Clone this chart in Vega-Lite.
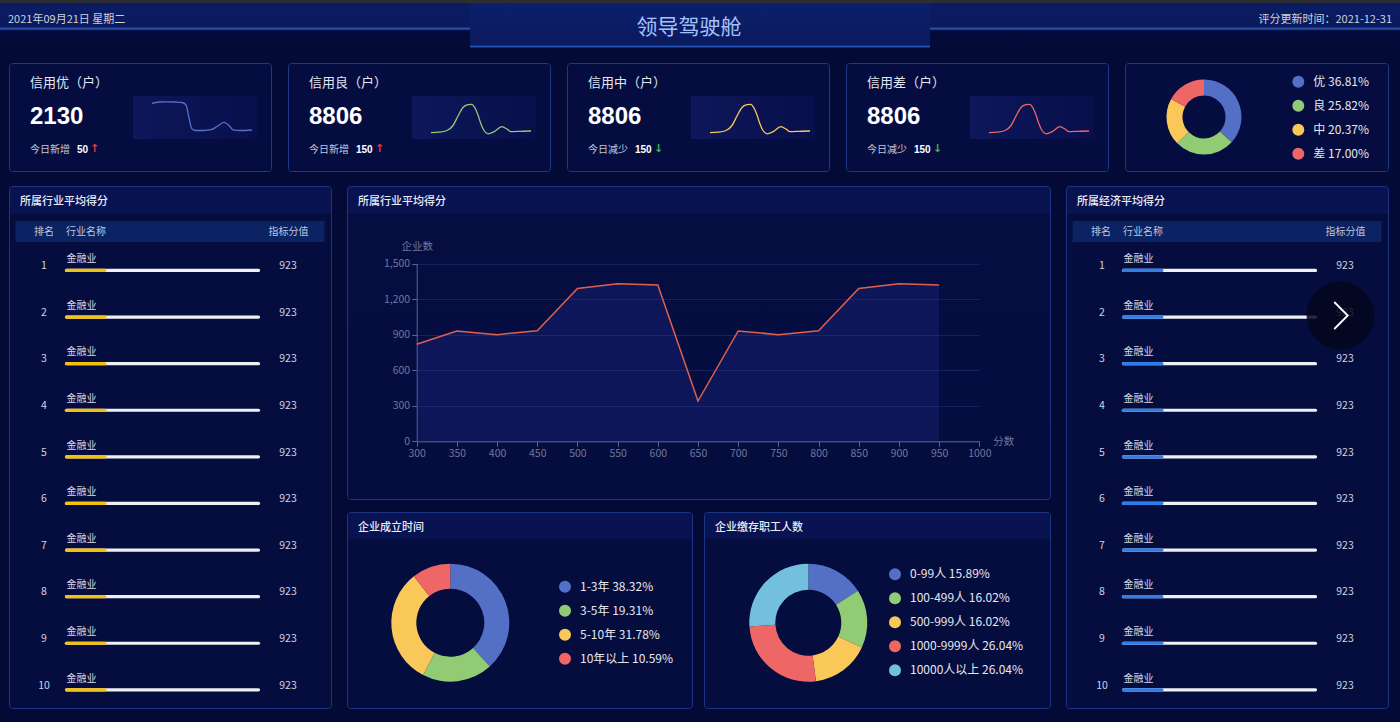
{
"$schema":"https://vega.github.io/schema/vega-lite/v6.json",
"background":"#030a35",
"padding":{"left":0,"top":0,"right":0,"bottom":13},
"autosize":{"type":"pad"},
"config":{
 "font":"Noto Sans CJK SC",
 "view":{"stroke":null},
 "title":{"font":"Noto Sans CJK SC","fontWeight":"normal","frame":"group"},
 "axis":{"domainColor":"#5a6490","tickColor":"#5a6490","labelColor":"#6f789c","titleColor":"#6f789c","gridColor":"#18215c","labelFontSize":10.5,"titleFontSize":10.5,"titleFontWeight":"normal","tickSize":5,"labelPadding":2,"labelFont":"Noto Sans CJK SC","titleFont":"Noto Sans CJK SC"},
 "legend":{"symbolType":"circle","symbolSize":144,"symbolStrokeWidth":0,"labelFontSize":12,"labelColor":"#e6e8ee","labelFont":"Noto Sans CJK SC","labelOffset":9,"rowPadding":12,"padding":0,"labelLimit":300,"orient":"none","direction":"vertical"}
},
"datasets":{
 "tbl":[{"rank":1,"name":"金融业","score":923,"pct":20},{"rank":2,"name":"金融业","score":923,"pct":20},{"rank":3,"name":"金融业","score":923,"pct":20},{"rank":4,"name":"金融业","score":923,"pct":20},{"rank":5,"name":"金融业","score":923,"pct":20},{"rank":6,"name":"金融业","score":923,"pct":20},{"rank":7,"name":"金融业","score":923,"pct":20},{"rank":8,"name":"金融业","score":923,"pct":20},{"rank":9,"name":"金融业","score":923,"pct":20},{"rank":10,"name":"金融业","score":923,"pct":20}],
 "line":[{"score":300,"count":820},{"score":350,"count":932},{"score":400,"count":901},{"score":450,"count":934},{"score":500,"count":1290},{"score":550,"count":1330},{"score":600,"count":1320},{"score":650,"count":340},{"score":700,"count":932},{"score":750,"count":901},{"score":800,"count":934},{"score":850,"count":1290},{"score":900,"count":1330},{"score":950,"count":1320}],
 "kpi":[{"card":1,"name":"信用优（户）","total":2130,"trend":"今日新增","delta":50,"dir":"↑"},{"card":2,"name":"信用良（户）","total":8806,"trend":"今日新增","delta":150,"dir":"↑"},{"card":3,"name":"信用中（户）","total":8806,"trend":"今日减少","delta":150,"dir":"↓"},{"card":4,"name":"信用差（户）","total":8806,"trend":"今日减少","delta":150,"dir":"↓"}],
 "spark":[
  {"card":1,"t":0,"v":36.7},{"card":1,"t":7,"v":38},{"card":1,"t":15,"v":38.2},{"card":1,"t":23,"v":38},{"card":1,"t":30,"v":37.5},{"card":1,"t":34,"v":35},{"card":1,"t":37,"v":22},{"card":1,"t":40,"v":11},{"card":1,"t":44,"v":9.5},{"card":1,"t":52,"v":9.5},{"card":1,"t":59,"v":10.3},{"card":1,"t":65,"v":13.5},{"card":1,"t":72,"v":17.7},{"card":1,"t":77,"v":14.5},{"card":1,"t":81,"v":10.2},{"card":1,"t":88,"v":9.5},{"card":1,"t":100,"v":10},
  {"card":2,"t":0,"v":7.3},{"card":2,"t":8,"v":7.8},{"card":2,"t":16,"v":9.5},{"card":2,"t":22,"v":14.5},{"card":2,"t":27,"v":24},{"card":2,"t":32,"v":32.5},{"card":2,"t":37,"v":35.3},{"card":2,"t":40.7,"v":35.7},{"card":2,"t":44,"v":32},{"card":2,"t":47,"v":25},{"card":2,"t":50,"v":16},{"card":2,"t":53,"v":9.5},{"card":2,"t":57,"v":6.2},{"card":2,"t":63,"v":8.3},{"card":2,"t":70.7,"v":13.3},{"card":2,"t":76,"v":11},{"card":2,"t":80,"v":8.3},{"card":2,"t":90,"v":8.7},{"card":2,"t":100,"v":9},
  {"card":3,"t":0,"v":7.3},{"card":3,"t":8,"v":7.8},{"card":3,"t":16,"v":9.5},{"card":3,"t":22,"v":14.5},{"card":3,"t":27,"v":24},{"card":3,"t":32,"v":32.5},{"card":3,"t":37,"v":35.3},{"card":3,"t":40.7,"v":35.7},{"card":3,"t":44,"v":32},{"card":3,"t":47,"v":25},{"card":3,"t":50,"v":16},{"card":3,"t":53,"v":9.5},{"card":3,"t":57,"v":6.2},{"card":3,"t":63,"v":8.3},{"card":3,"t":70.7,"v":13.3},{"card":3,"t":76,"v":11},{"card":3,"t":80,"v":8.3},{"card":3,"t":90,"v":8.7},{"card":3,"t":100,"v":9},
  {"card":4,"t":0,"v":7.3},{"card":4,"t":8,"v":7.8},{"card":4,"t":16,"v":9.5},{"card":4,"t":22,"v":14.5},{"card":4,"t":27,"v":24},{"card":4,"t":32,"v":32.5},{"card":4,"t":37,"v":35.3},{"card":4,"t":40.7,"v":35.7},{"card":4,"t":44,"v":32},{"card":4,"t":47,"v":25},{"card":4,"t":50,"v":16},{"card":4,"t":53,"v":9.5},{"card":4,"t":57,"v":6.2},{"card":4,"t":63,"v":8.3},{"card":4,"t":70.7,"v":13.3},{"card":4,"t":76,"v":11},{"card":4,"t":80,"v":8.3},{"card":4,"t":90,"v":8.7},{"card":4,"t":100,"v":9}
 ],
 "credit":[{"label":"优 36.81%","v":36.81,"idx":1},{"label":"良 25.82%","v":25.82,"idx":2},{"label":"中 20.37%","v":20.37,"idx":3},{"label":"差 17.00%","v":17.00,"idx":4}],
 "age":[{"label":"1-3年 38.32%","v":38.32,"idx":1},{"label":"3-5年 19.31%","v":19.31,"idx":2},{"label":"5-10年 31.78%","v":31.78,"idx":3},{"label":"10年以上 10.59%","v":10.59,"idx":4}],
 "staff":[{"label":"0-99人 15.89%","v":15.89,"idx":1},{"label":"100-499人 16.02%","v":16.02,"idx":2},{"label":"500-999人 16.02%","v":16.02,"idx":3},{"label":"1000-9999人 26.04%","v":26.04,"idx":4},{"label":"10000人以上 26.04%","v":26.04,"idx":5}]
},
"spacing":14,
"resolve":{"scale":{"color":"independent"},"legend":{"color":"independent"}},
"vconcat":[
 {"spacing":0,"resolve":{"scale":{"color":"independent"},"legend":{"color":"independent"}},"vconcat":[
  {"width":1400,"height":3,"view":{"fill":"#2c2d33","stroke":null},"data":{"values":[]},"mark":"point","encoding":{}},
  {"spacing":0,"resolve":{"scale":{"color":"independent"},"legend":{"color":"independent"}},"hconcat":[
   {"width":470,"height":45,"view":{"fill":{"gradient":"linear","x1":0,"y1":0,"x2":0,"y2":1,"stops":[{"offset":0,"color":"#0b1c63"},{"offset":0.53,"color":"#0a1a5c"},{"offset":0.555,"color":"#1f4aa6"},{"offset":0.585,"color":"#1f4aa6"},{"offset":0.61,"color":"#040c3d"},{"offset":1,"color":"#030a35"}]},"stroke":null},
    "title":{"text":"2021年09月21日 星期二","anchor":"start","offset":-21.5,"dx":8,"fontSize":11,"color":"#cdd2dc"},"data":{"values":[]},"mark":"point","encoding":{}},
   {"width":460,"height":45,"view":{"fill":{"gradient":"linear","x1":0,"y1":0,"x2":0,"y2":1,"stops":[{"offset":0,"color":"#0c1f6b"},{"offset":0.94,"color":"#0a1a5e"},{"offset":0.955,"color":"#2656b8"},{"offset":0.98,"color":"#2656b8"},{"offset":0.995,"color":"#030a35"},{"offset":1,"color":"#030a35"}]},"stroke":null},
    "title":{"text":"领导驾驶舱","anchor":"middle","offset":-34.5,"dx":-11,"fontSize":21,"color":"#a3c1ff"},"data":{"values":[]},"mark":"point","encoding":{}},
   {"width":470,"height":45,"view":{"fill":{"gradient":"linear","x1":0,"y1":0,"x2":0,"y2":1,"stops":[{"offset":0,"color":"#0b1c63"},{"offset":0.53,"color":"#0a1a5c"},{"offset":0.555,"color":"#1f4aa6"},{"offset":0.585,"color":"#1f4aa6"},{"offset":0.61,"color":"#040c3d"},{"offset":1,"color":"#030a35"}]},"stroke":null},
    "title":{"text":"评分更新时间：2021-12-31","anchor":"end","offset":-21.5,"dx":-8,"fontSize":11,"color":"#cdd2dc"},"data":{"values":[]},"mark":"point","encoding":{}}
  ]}
 ]},
 {"spacing":13,"resolve":{"scale":{"color":"independent"},"legend":{"color":"independent"}},"vconcat":[
 {"spacing":7,"resolve":{"scale":{"color":"independent"},"legend":{"color":"independent"}},"hconcat":[
  {"width":1,"height":1,"data":{"values":[]},"mark":"point","encoding":{}},
  {"spacing":15,"resolve":{"scale":{"color":"independent"},"legend":{"color":"independent"}},"hconcat":[
   {"width":262,"height":108,"view":{"fill":"#050c3f","stroke":"#1c3887","cornerRadius":3},
    "resolve":{"scale":{"x":"independent","y":"independent","color":"independent"}},
    "layer":[
     {"data":{"values":[{}]},"mark":{"type":"rect","fill":{"gradient":"linear","x1":0,"y1":0,"x2":1,"y2":0,"stops":[{"offset":0,"color":"#0d175a"},{"offset":1,"color":"#080f4a"}]}},
       "encoding":{"x":{"datum":-19,"type":"quantitative","scale":{"domain":[-19,105],"range":[124,248],"nice":false,"zero":false},"axis":null},"x2":{"datum":105},"y":{"datum":1,"type":"quantitative","scale":{"domain":[1,44],"range":[76,33],"nice":false,"zero":false},"axis":null},"y2":{"datum":44}}},
     {"data":{"name":"spark"},"transform":[{"filter":"datum.card == 1"}],"mark":{"type":"line","interpolate":"monotone","color":"#5470c6","strokeWidth":1.3},
       "encoding":{"x":{"field":"t","type":"quantitative","scale":{"domain":[-19,105],"range":[124,248],"nice":false,"zero":false},"axis":null},"y":{"field":"v","type":"quantitative","scale":{"domain":[1,44],"range":[76,33],"nice":false,"zero":false},"axis":null}}},
     {"data":{"name":"kpi"},"transform":[{"filter":"datum.card == 1"}],"mark":{"type":"text","align":"left","baseline":"middle","dx":-110,"dy":-34,"fontSize":13,"color":"#e2e7f2"},"encoding":{"text":{"field":"name","type":"nominal"}}},
     {"data":{"name":"kpi"},"transform":[{"filter":"datum.card == 1"}],"mark":{"type":"text","align":"left","baseline":"middle","dx":-110,"dy":0,"fontSize":24,"fontWeight":"bold","font":"Liberation Sans","color":"#ffffff"},"encoding":{"text":{"field":"total","type":"nominal"}}},
     {"data":{"name":"kpi"},"transform":[{"filter":"datum.card == 1"}],"mark":{"type":"text","align":"left","baseline":"middle","dx":-110,"dy":33,"fontSize":10,"color":"#c3c8d6"},"encoding":{"text":{"field":"trend","type":"nominal"}}},
     {"data":{"name":"kpi"},"transform":[{"filter":"datum.card == 1"}],"mark":{"type":"text","align":"center","baseline":"middle","dx":-45.5,"dy":32,"fontSize":11,"fontWeight":"bold","font":"DejaVu Sans"},"encoding":{"text":{"field":"dir","type":"nominal"},"color":{"field":"dir","type":"nominal","scale":{"domain":["↑","↓"],"range":["#e5383b","#3dbb57"]},"legend":null}}},
     {"data":{"name":"kpi"},"transform":[{"filter":"datum.card == 1"}],"mark":{"type":"text","align":"left","baseline":"middle","dx":-63,"dy":33,"fontSize":10,"fontWeight":"bold","font":"Liberation Sans","color":"#ffffff"},"encoding":{"text":{"field":"delta","type":"nominal"}}}
    ]},
   {"width":262,"height":108,"view":{"fill":"#050c3f","stroke":"#1c3887","cornerRadius":3},
    "resolve":{"scale":{"x":"independent","y":"independent","color":"independent"}},
    "layer":[
     {"data":{"values":[{}]},"mark":{"type":"rect","fill":{"gradient":"linear","x1":0,"y1":0,"x2":1,"y2":0,"stops":[{"offset":0,"color":"#0d175a"},{"offset":1,"color":"#080f4a"}]}},
       "encoding":{"x":{"datum":-19,"type":"quantitative","scale":{"domain":[-19,105],"range":[124,248],"nice":false,"zero":false},"axis":null},"x2":{"datum":105},"y":{"datum":1,"type":"quantitative","scale":{"domain":[1,44],"range":[76,33],"nice":false,"zero":false},"axis":null},"y2":{"datum":44}}},
     {"data":{"name":"spark"},"transform":[{"filter":"datum.card == 2"}],"mark":{"type":"line","interpolate":"monotone","color":"#91cc75","strokeWidth":1.3},
       "encoding":{"x":{"field":"t","type":"quantitative","scale":{"domain":[-19,105],"range":[124,248],"nice":false,"zero":false},"axis":null},"y":{"field":"v","type":"quantitative","scale":{"domain":[1,44],"range":[76,33],"nice":false,"zero":false},"axis":null}}},
     {"data":{"name":"kpi"},"transform":[{"filter":"datum.card == 2"}],"mark":{"type":"text","align":"left","baseline":"middle","dx":-110,"dy":-34,"fontSize":13,"color":"#e2e7f2"},"encoding":{"text":{"field":"name","type":"nominal"}}},
     {"data":{"name":"kpi"},"transform":[{"filter":"datum.card == 2"}],"mark":{"type":"text","align":"left","baseline":"middle","dx":-110,"dy":0,"fontSize":24,"fontWeight":"bold","font":"Liberation Sans","color":"#ffffff"},"encoding":{"text":{"field":"total","type":"nominal"}}},
     {"data":{"name":"kpi"},"transform":[{"filter":"datum.card == 2"}],"mark":{"type":"text","align":"left","baseline":"middle","dx":-110,"dy":33,"fontSize":10,"color":"#c3c8d6"},"encoding":{"text":{"field":"trend","type":"nominal"}}},
     {"data":{"name":"kpi"},"transform":[{"filter":"datum.card == 2"}],"mark":{"type":"text","align":"center","baseline":"middle","dx":-39.5,"dy":32,"fontSize":11,"fontWeight":"bold","font":"DejaVu Sans"},"encoding":{"text":{"field":"dir","type":"nominal"},"color":{"field":"dir","type":"nominal","scale":{"domain":["↑","↓"],"range":["#e5383b","#3dbb57"]},"legend":null}}},
     {"data":{"name":"kpi"},"transform":[{"filter":"datum.card == 2"}],"mark":{"type":"text","align":"left","baseline":"middle","dx":-63,"dy":33,"fontSize":10,"fontWeight":"bold","font":"Liberation Sans","color":"#ffffff"},"encoding":{"text":{"field":"delta","type":"nominal"}}}
    ]},
   {"width":262,"height":108,"view":{"fill":"#050c3f","stroke":"#1c3887","cornerRadius":3},
    "resolve":{"scale":{"x":"independent","y":"independent","color":"independent"}},
    "layer":[
     {"data":{"values":[{}]},"mark":{"type":"rect","fill":{"gradient":"linear","x1":0,"y1":0,"x2":1,"y2":0,"stops":[{"offset":0,"color":"#0d175a"},{"offset":1,"color":"#080f4a"}]}},
       "encoding":{"x":{"datum":-19,"type":"quantitative","scale":{"domain":[-19,105],"range":[124,248],"nice":false,"zero":false},"axis":null},"x2":{"datum":105},"y":{"datum":1,"type":"quantitative","scale":{"domain":[1,44],"range":[76,33],"nice":false,"zero":false},"axis":null},"y2":{"datum":44}}},
     {"data":{"name":"spark"},"transform":[{"filter":"datum.card == 3"}],"mark":{"type":"line","interpolate":"monotone","color":"#fac858","strokeWidth":1.3},
       "encoding":{"x":{"field":"t","type":"quantitative","scale":{"domain":[-19,105],"range":[124,248],"nice":false,"zero":false},"axis":null},"y":{"field":"v","type":"quantitative","scale":{"domain":[1,44],"range":[76,33],"nice":false,"zero":false},"axis":null}}},
     {"data":{"name":"kpi"},"transform":[{"filter":"datum.card == 3"}],"mark":{"type":"text","align":"left","baseline":"middle","dx":-110,"dy":-34,"fontSize":13,"color":"#e2e7f2"},"encoding":{"text":{"field":"name","type":"nominal"}}},
     {"data":{"name":"kpi"},"transform":[{"filter":"datum.card == 3"}],"mark":{"type":"text","align":"left","baseline":"middle","dx":-110,"dy":0,"fontSize":24,"fontWeight":"bold","font":"Liberation Sans","color":"#ffffff"},"encoding":{"text":{"field":"total","type":"nominal"}}},
     {"data":{"name":"kpi"},"transform":[{"filter":"datum.card == 3"}],"mark":{"type":"text","align":"left","baseline":"middle","dx":-110,"dy":33,"fontSize":10,"color":"#c3c8d6"},"encoding":{"text":{"field":"trend","type":"nominal"}}},
     {"data":{"name":"kpi"},"transform":[{"filter":"datum.card == 3"}],"mark":{"type":"text","align":"center","baseline":"middle","dx":-39.5,"dy":32,"fontSize":11,"fontWeight":"bold","font":"DejaVu Sans"},"encoding":{"text":{"field":"dir","type":"nominal"},"color":{"field":"dir","type":"nominal","scale":{"domain":["↑","↓"],"range":["#e5383b","#3dbb57"]},"legend":null}}},
     {"data":{"name":"kpi"},"transform":[{"filter":"datum.card == 3"}],"mark":{"type":"text","align":"left","baseline":"middle","dx":-63,"dy":33,"fontSize":10,"fontWeight":"bold","font":"Liberation Sans","color":"#ffffff"},"encoding":{"text":{"field":"delta","type":"nominal"}}}
    ]},
   {"width":262,"height":108,"view":{"fill":"#050c3f","stroke":"#1c3887","cornerRadius":3},
    "resolve":{"scale":{"x":"independent","y":"independent","color":"independent"}},
    "layer":[
     {"data":{"values":[{}]},"mark":{"type":"rect","fill":{"gradient":"linear","x1":0,"y1":0,"x2":1,"y2":0,"stops":[{"offset":0,"color":"#0d175a"},{"offset":1,"color":"#080f4a"}]}},
       "encoding":{"x":{"datum":-19,"type":"quantitative","scale":{"domain":[-19,105],"range":[124,248],"nice":false,"zero":false},"axis":null},"x2":{"datum":105},"y":{"datum":1,"type":"quantitative","scale":{"domain":[1,44],"range":[76,33],"nice":false,"zero":false},"axis":null},"y2":{"datum":44}}},
     {"data":{"name":"spark"},"transform":[{"filter":"datum.card == 4"}],"mark":{"type":"line","interpolate":"monotone","color":"#ee6666","strokeWidth":1.3},
       "encoding":{"x":{"field":"t","type":"quantitative","scale":{"domain":[-19,105],"range":[124,248],"nice":false,"zero":false},"axis":null},"y":{"field":"v","type":"quantitative","scale":{"domain":[1,44],"range":[76,33],"nice":false,"zero":false},"axis":null}}},
     {"data":{"name":"kpi"},"transform":[{"filter":"datum.card == 4"}],"mark":{"type":"text","align":"left","baseline":"middle","dx":-110,"dy":-34,"fontSize":13,"color":"#e2e7f2"},"encoding":{"text":{"field":"name","type":"nominal"}}},
     {"data":{"name":"kpi"},"transform":[{"filter":"datum.card == 4"}],"mark":{"type":"text","align":"left","baseline":"middle","dx":-110,"dy":0,"fontSize":24,"fontWeight":"bold","font":"Liberation Sans","color":"#ffffff"},"encoding":{"text":{"field":"total","type":"nominal"}}},
     {"data":{"name":"kpi"},"transform":[{"filter":"datum.card == 4"}],"mark":{"type":"text","align":"left","baseline":"middle","dx":-110,"dy":33,"fontSize":10,"color":"#c3c8d6"},"encoding":{"text":{"field":"trend","type":"nominal"}}},
     {"data":{"name":"kpi"},"transform":[{"filter":"datum.card == 4"}],"mark":{"type":"text","align":"center","baseline":"middle","dx":-39.5,"dy":32,"fontSize":11,"fontWeight":"bold","font":"DejaVu Sans"},"encoding":{"text":{"field":"dir","type":"nominal"},"color":{"field":"dir","type":"nominal","scale":{"domain":["↑","↓"],"range":["#e5383b","#3dbb57"]},"legend":null}}},
     {"data":{"name":"kpi"},"transform":[{"filter":"datum.card == 4"}],"mark":{"type":"text","align":"left","baseline":"middle","dx":-63,"dy":33,"fontSize":10,"fontWeight":"bold","font":"Liberation Sans","color":"#ffffff"},"encoding":{"text":{"field":"delta","type":"nominal"}}}
    ]},
   {"width":263,"height":108,"view":{"fill":"#050c3f","stroke":"#1c3887","cornerRadius":3},
    "data":{"name":"credit"},
    "mark":{"type":"arc","outerRadius":37.5,"innerRadius":21.5,"xOffset":-52.5},
    "encoding":{"theta":{"field":"v","type":"quantitative","stack":true},"order":{"field":"idx","type":"quantitative"},
     "color":{"field":"label","type":"nominal","scale":{"domain":["优 36.81%","良 25.82%","中 20.37%","差 17.00%"],"range":["#5470c6","#91cc75","#fac858","#ee6666"]},"legend":{"title":null,"legendX":167.3,"legendY":12.7}}}}
  ]}
 ]},
 {"spacing":7,"resolve":{"scale":{"color":"independent"},"legend":{"color":"independent"}},"hconcat":[
  {"width":1,"height":1,"data":{"values":[]},"mark":"point","encoding":{}},
  {"spacing":14,"resolve":{"scale":{"color":"independent"},"legend":{"color":"independent"}},"hconcat":[
   {"width":322,"height":522,"view":{"fill":{"gradient":"linear","x1":0,"y1":0,"x2":0,"y2":1,"stops":[{"offset":0,"color":"#0a1351"},{"offset":0.0515,"color":"#0a1351"},{"offset":0.053,"color":"#050c3e"},{"offset":1,"color":"#050c3e"}]},"stroke":"#1b3583","cornerRadius":3},
    "title":{"text":"所属行业平均得分","anchor":"start","offset":-20.5,"dx":11,"fontSize":11,"fontWeight":500,"color":"#e8ecf6"},
    "resolve":{"scale":{"x":"independent","y":"independent"}},
    "layer":[
     {"data":{"values":[{}]},"mark":{"type":"rect","color":"#0b2263"},
      "encoding":{"x":{"datum":0,"type":"quantitative","scale":{"domain":[0,1],"range":[6.5,315.5],"nice":false,"zero":false},"axis":null},"x2":{"datum":1},"y":{"datum":0,"type":"quantitative","scale":{"domain":[0,1],"range":[35,56],"nice":false,"zero":false},"axis":null},"y2":{"datum":1}}},
     {"data":{"values":[{}]},"mark":{"type":"text","text":"排名","dx":-126,"dy":-215,"fontSize":10,"color":"#bfc7dc","align":"center","baseline":"middle"},"encoding":{}},
     {"data":{"values":[{}]},"mark":{"type":"text","text":"行业名称","dx":-84,"dy":-215,"fontSize":10,"color":"#bfc7dc","align":"center","baseline":"middle"},"encoding":{}},
     {"data":{"values":[{}]},"mark":{"type":"text","text":"指标分值","dx":118.5,"dy":-215,"fontSize":10,"color":"#bfc7dc","align":"center","baseline":"middle"},"encoding":{}},
     {"data":{"name":"tbl"},"mark":{"type":"rule","color":"#eef0f4","strokeWidth":3.2,"strokeCap":"round"},
      "encoding":{"x":{"datum":0,"type":"quantitative","scale":{"domain":[0,100],"range":[57.5,249.5],"nice":false,"zero":false},"axis":null},"x2":{"datum":100},"y":{"field":"rank","type":"ordinal","scale":{"type":"band","domain":[1,2,3,4,5,6,7,8,9,10],"range":[56,522],"paddingInner":0,"paddingOuter":0},"bandPosition":0.61,"axis":null}}},
     {"data":{"name":"tbl"},"mark":{"type":"rule","color":"#f4c20d","strokeWidth":3.2,"strokeCap":"round"},
      "encoding":{"x":{"field":"pct","type":"quantitative","scale":{"domain":[0,100],"range":[57.5,249.5],"nice":false,"zero":false},"axis":null},"x2":{"datum":0},"y":{"field":"rank","type":"ordinal","scale":{"type":"band","domain":[1,2,3,4,5,6,7,8,9,10],"range":[56,522],"paddingInner":0,"paddingOuter":0},"bandPosition":0.61,"axis":null}}},
     {"data":{"name":"tbl"},"mark":{"type":"text","align":"left","baseline":"middle","fontSize":10,"color":"#d6dae6"},
      "encoding":{"x":{"datum":0,"type":"quantitative","scale":{"domain":[0,100],"range":[57.5,249.5],"nice":false,"zero":false},"axis":null},"y":{"field":"rank","type":"ordinal","scale":{"type":"band","domain":[1,2,3,4,5,6,7,8,9,10],"range":[56,522],"paddingInner":0,"paddingOuter":0},"bandPosition":0.37,"axis":null},"text":{"field":"name","type":"nominal"}}},
     {"data":{"name":"tbl"},"mark":{"type":"text","align":"center","baseline":"middle","dx":-126,"fontSize":10.5,"color":"#cfd4e2"},
      "encoding":{"y":{"field":"rank","type":"ordinal","scale":{"type":"band","domain":[1,2,3,4,5,6,7,8,9,10],"range":[56,522],"paddingInner":0,"paddingOuter":0},"bandPosition":0.52,"axis":null},"text":{"field":"rank","type":"nominal"}}},
     {"data":{"name":"tbl"},"mark":{"type":"text","align":"center","baseline":"middle","dx":118,"fontSize":10.5,"color":"#cfd4e2"},
      "encoding":{"y":{"field":"rank","type":"ordinal","scale":{"type":"band","domain":[1,2,3,4,5,6,7,8,9,10],"range":[56,522],"paddingInner":0,"paddingOuter":0},"bandPosition":0.52,"axis":null},"text":{"field":"score","type":"nominal"}}}
    ]},
   {"spacing":11,"resolve":{"scale":{"color":"independent"},"legend":{"color":"independent"}},"vconcat":[
    {"width":703,"height":313,"view":{"fill":{"gradient":"linear","x1":0,"y1":0,"x2":0,"y2":1,"stops":[{"offset":0,"color":"#0a1351"},{"offset":0.086,"color":"#0a1351"},{"offset":0.089,"color":"#060d41"},{"offset":1,"color":"#050c3e"}]},"stroke":"#1b3583","cornerRadius":3},
     "title":{"text":"所属行业平均得分","anchor":"start","offset":-20.5,"dx":11,"fontSize":11,"fontWeight":500,"color":"#e8ecf6"},
     "data":{"name":"line"},
     "encoding":{
      "x":{"field":"score","type":"quantitative","scale":{"domain":[300,1000],"range":[69.7,632.3],"nice":false,"zero":false},
       "axis":{"values":[300,350,400,450,500,550,600,650,700,750,800,850,900,950,1000],"format":"d","offset":-57.7,"grid":false,"title":"分数","titleX":645.7,"titleY":0,"titleAlign":"left","titleBaseline":"middle","titleAngle":0,"labelFlush":false,"labelOverlap":false}},
      "y":{"field":"count","type":"quantitative","scale":{"domain":[0,1500],"range":[255.3,77.7],"nice":false,"zero":true},
       "axis":{"values":[0,300,600,900,1200,1500],"format":",d","offset":-69.7,"grid":true,"title":"企业数","titleAngle":0,"titleX":0,"titleY":60.3,"titleAlign":"center","titleBaseline":"middle"}}
     },
     "layer":[
      {"mark":{"type":"area","color":"#2a3db0","opacity":0.22}},
      {"mark":{"type":"line","color":"#e0604e","strokeWidth":1.5}}
     ]},
    {"spacing":10,"resolve":{"scale":{"color":"independent"},"legend":{"color":"independent"}},"hconcat":[
     {"width":345,"height":196,"view":{"fill":{"gradient":"linear","x1":0,"y1":0,"x2":0,"y2":1,"stops":[{"offset":0,"color":"#0a1351"},{"offset":0.132,"color":"#0a1351"},{"offset":0.137,"color":"#050c3e"},{"offset":1,"color":"#050c3e"}]},"stroke":"#1b3583","cornerRadius":3},
      "title":{"text":"企业成立时间","anchor":"start","offset":-20.5,"dx":11,"fontSize":11,"fontWeight":500,"color":"#e8ecf6"},
      "data":{"name":"age"},
      "mark":{"type":"arc","outerRadius":59,"innerRadius":34,"xOffset":-69.2,"yOffset":12.7},
      "encoding":{"theta":{"field":"v","type":"quantitative","stack":true},"order":{"field":"idx","type":"quantitative"},
       "color":{"field":"label","type":"nominal","scale":{"domain":["1-3年 38.32%","3-5年 19.31%","5-10年 31.78%","10年以上 10.59%"],"range":["#5470c6","#91cc75","#fac858","#ee6666"]},"legend":{"title":null,"legendX":212,"legendY":68.7}}}},
     {"width":346,"height":196,"view":{"fill":{"gradient":"linear","x1":0,"y1":0,"x2":0,"y2":1,"stops":[{"offset":0,"color":"#0a1351"},{"offset":0.132,"color":"#0a1351"},{"offset":0.137,"color":"#050c3e"},{"offset":1,"color":"#050c3e"}]},"stroke":"#1b3583","cornerRadius":3},
      "title":{"text":"企业缴存职工人数","anchor":"start","offset":-20.5,"dx":11,"fontSize":11,"fontWeight":500,"color":"#e8ecf6"},
      "data":{"name":"staff"},
      "mark":{"type":"arc","outerRadius":59,"innerRadius":33,"xOffset":-68.7,"yOffset":12.7},
      "encoding":{"theta":{"field":"v","type":"quantitative","stack":true},"order":{"field":"idx","type":"quantitative"},
       "color":{"field":"label","type":"nominal","scale":{"domain":["0-99人 15.89%","100-499人 16.02%","500-999人 16.02%","1000-9999人 26.04%","10000人以上 26.04%"],"range":["#5470c6","#91cc75","#fac858","#ee6666","#73c0de"]},"legend":{"title":null,"legendX":185,"legendY":56.3}}}}
    ]}
   ]},
   {"width":322,"height":522,"view":{"fill":{"gradient":"linear","x1":0,"y1":0,"x2":0,"y2":1,"stops":[{"offset":0,"color":"#0a1351"},{"offset":0.0515,"color":"#0a1351"},{"offset":0.053,"color":"#050c3e"},{"offset":1,"color":"#050c3e"}]},"stroke":"#1b3583","cornerRadius":3},
    "title":{"text":"所属经济平均得分","anchor":"start","offset":-20.5,"dx":11,"fontSize":11,"fontWeight":500,"color":"#e8ecf6"},
    "resolve":{"scale":{"x":"independent","y":"independent"}},
    "layer":[
     {"data":{"values":[{}]},"mark":{"type":"rect","color":"#0b2263"},
      "encoding":{"x":{"datum":0,"type":"quantitative","scale":{"domain":[0,1],"range":[6.5,315.5],"nice":false,"zero":false},"axis":null},"x2":{"datum":1},"y":{"datum":0,"type":"quantitative","scale":{"domain":[0,1],"range":[35,56],"nice":false,"zero":false},"axis":null},"y2":{"datum":1}}},
     {"data":{"values":[{}]},"mark":{"type":"text","text":"排名","dx":-126,"dy":-215,"fontSize":10,"color":"#bfc7dc","align":"center","baseline":"middle"},"encoding":{}},
     {"data":{"values":[{}]},"mark":{"type":"text","text":"行业名称","dx":-84,"dy":-215,"fontSize":10,"color":"#bfc7dc","align":"center","baseline":"middle"},"encoding":{}},
     {"data":{"values":[{}]},"mark":{"type":"text","text":"指标分值","dx":118.5,"dy":-215,"fontSize":10,"color":"#bfc7dc","align":"center","baseline":"middle"},"encoding":{}},
     {"data":{"name":"tbl"},"mark":{"type":"rule","color":"#eef0f4","strokeWidth":3.2,"strokeCap":"round"},
      "encoding":{"x":{"datum":0,"type":"quantitative","scale":{"domain":[0,100],"range":[57.5,249.5],"nice":false,"zero":false},"axis":null},"x2":{"datum":100},"y":{"field":"rank","type":"ordinal","scale":{"type":"band","domain":[1,2,3,4,5,6,7,8,9,10],"range":[56,522],"paddingInner":0,"paddingOuter":0},"bandPosition":0.61,"axis":null}}},
     {"data":{"name":"tbl"},"mark":{"type":"rule","color":"#2f7ee8","strokeWidth":3.2,"strokeCap":"round"},
      "encoding":{"x":{"field":"pct","type":"quantitative","scale":{"domain":[0,100],"range":[57.5,249.5],"nice":false,"zero":false},"axis":null},"x2":{"datum":0},"y":{"field":"rank","type":"ordinal","scale":{"type":"band","domain":[1,2,3,4,5,6,7,8,9,10],"range":[56,522],"paddingInner":0,"paddingOuter":0},"bandPosition":0.61,"axis":null}}},
     {"data":{"name":"tbl"},"mark":{"type":"text","align":"left","baseline":"middle","fontSize":10,"color":"#d6dae6"},
      "encoding":{"x":{"datum":0,"type":"quantitative","scale":{"domain":[0,100],"range":[57.5,249.5],"nice":false,"zero":false},"axis":null},"y":{"field":"rank","type":"ordinal","scale":{"type":"band","domain":[1,2,3,4,5,6,7,8,9,10],"range":[56,522],"paddingInner":0,"paddingOuter":0},"bandPosition":0.37,"axis":null},"text":{"field":"name","type":"nominal"}}},
     {"data":{"name":"tbl"},"mark":{"type":"text","align":"center","baseline":"middle","dx":-125,"fontSize":10.5,"color":"#cfd4e2"},
      "encoding":{"y":{"field":"rank","type":"ordinal","scale":{"type":"band","domain":[1,2,3,4,5,6,7,8,9,10],"range":[56,522],"paddingInner":0,"paddingOuter":0},"bandPosition":0.52,"axis":null},"text":{"field":"rank","type":"nominal"}}},
     {"data":{"name":"tbl"},"mark":{"type":"text","align":"center","baseline":"middle","dx":118,"fontSize":10.5,"color":"#cfd4e2"},
      "encoding":{"y":{"field":"rank","type":"ordinal","scale":{"type":"band","domain":[1,2,3,4,5,6,7,8,9,10],"range":[56,522],"paddingInner":0,"paddingOuter":0},"bandPosition":0.52,"axis":null},"text":{"field":"score","type":"nominal"}}},
     {"data":{"values":[{}]},"mark":{"type":"point","shape":"circle","size":4624,"filled":true,"color":"#03071c","opacity":0.85,"xOffset":113.5,"yOffset":-131.5},"encoding":{}},
     {"data":{"values":[{}]},"mark":{"type":"point","shape":"M-0.5,-1L0.5,0L-0.5,1","size":729,"filled":false,"color":"#ffffff","strokeWidth":1.8,"opacity":1,"xOffset":114,"yOffset":-131.5},"encoding":{}}
    ]}
  ]}
 ]}
 ]}
]
}
